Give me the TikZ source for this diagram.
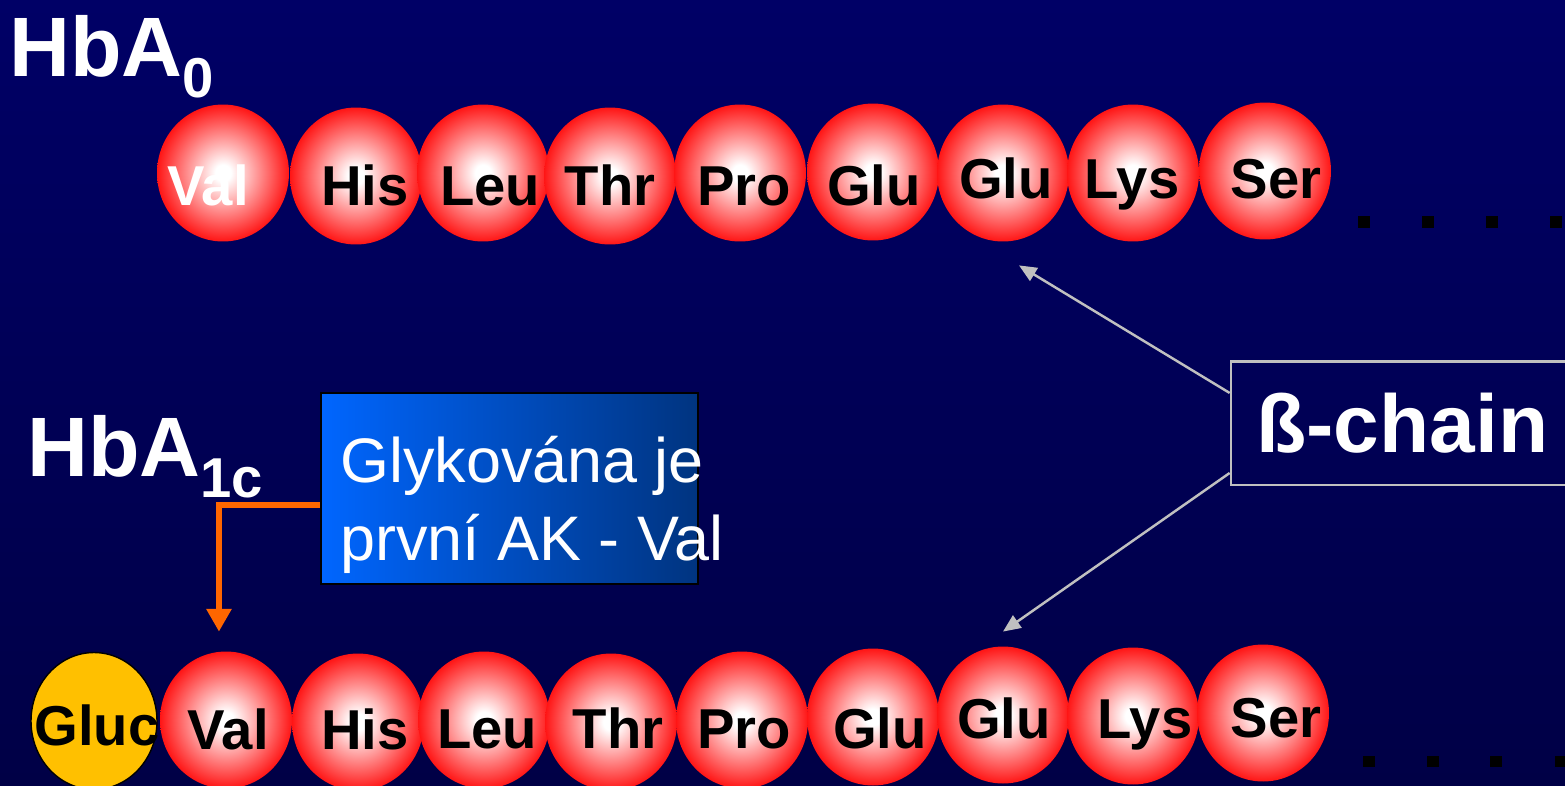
\documentclass[tikz,border=0pt]{standalone}
\usepackage{fontspec}
\setmainfont{Liberation Sans}
\usetikzlibrary{shapes.geometric,arrows.meta}

\definecolor{bgtop}{RGB}{0,0,102}
\definecolor{bgmid}{RGB}{0,0,94}
\definecolor{bgbot}{RGB}{0,0,70}
\definecolor{glucgold}{RGB}{255,192,0}
\definecolor{noteleft}{RGB}{0,102,255}
\definecolor{noteright}{RGB}{0,52,128}
\definecolor{pointer}{RGB}{255,102,0}
\definecolor{silver}{RGB}{192,192,192}

\pgfdeclareradialshading{acidball}{\pgfpoint{0bp}{0bp}}{color(0bp)=(white); color(3bp)=(white); color(27bp)=(red); color(50bp)=(red)}

\newcommand{\hbsub}[1]{\raisebox{-12pt}{\fontsize{32}{32}\selectfont #1}}

\tikzset{
  acid/.style={ellipse, minimum width=2.64cm, minimum height=2.74cm, inner sep=0pt, shading=acidball},
  gluc/.style={ellipse, minimum width=2.52cm, minimum height=2.74cm, inner sep=0pt, fill=glucgold, draw=black, line width=0.8pt},
  acidtext/.style={anchor=base, inner sep=0pt, font=\fontsize{32}{32}\selectfont\bfseries},
  hbtext/.style={anchor=base west, inner sep=0pt, text=white, font=\fontsize{48}{48}\selectfont\bfseries},
  notebox/.style={draw=black, line width=1.1pt, left color=noteleft, right color=noteright, minimum width=7.55cm, minimum height=3.83cm, inner sep=0pt},
  notetext/.style={anchor=north west, inner sep=0pt, align=left, text=white, font=\fontsize{35.8}{44.4}\selectfont},
  chainbox/.style={draw=silver, line width=1.4pt, minimum width=6.86cm, minimum height=2.47cm, inner sep=0pt, text=white, font=\fontsize{46.7}{46.7}\selectfont\bfseries},
  chainarrow/.style={draw=silver, line width=1.4pt, -{Triangle[width=8.5pt,length=10pt]}},
  pointerarrow/.style={draw=pointer, line width=3.8pt, -{Triangle[width=13.7pt,length=13pt]}}
}

\begin{document}
\begin{tikzpicture}[x=0.02cm, y=-0.02cm]

  \useasboundingbox (0,0) rectangle (1565,785);

  % background
  \shade [top color=bgtop, middle color=bgmid, bottom color=bgbot] (0,0) rectangle (1565,785);

  % titles
  \node [hbtext] (hba0)  at (9,   76)   {HbA\hbsub{0}};
  \node [hbtext] (hba1c) at (27,  476)  {HbA\hbsub{1c}};

  % top chain (HbA0)
  \node [acid] (t1) at (223,  173) {};
  \node [acid] (t2) at (356,  176) {};
  \node [acid] (t3) at (483,  173) {};
  \node [acid] (t4) at (610,  176) {};
  \node [acid] (t5) at (740,  173) {};
  \node [acid] (t6) at (873,  172) {};
  \node [acid] (t7) at (1003, 173) {};
  \node [acid] (t8) at (1133, 173) {};
  \node [acid] (t9) at (1265, 171) {};

  \node [acidtext, text=white] (t1l) at (208,  205) {Val};
  \node [acidtext] (t2l) at (365,  205) {His};
  \node [acidtext] (t3l) at (490,  205) {Leu};
  \node [acidtext] (t4l) at (610,  205) {Thr};
  \node [acidtext] (t5l) at (744,  205) {Pro};
  \node [acidtext] (t6l) at (874,  205) {Glu};
  \node [acidtext] (t7l) at (1006, 198) {Glu};
  \node [acidtext] (t8l) at (1132, 198) {Lys};
  \node [acidtext] (t9l) at (1276, 198) {Ser};

  % bottom chain (HbA1c)
  \node [gluc] (b0) at (94,   721) {};
  \node [acid] (b1) at (226,  720) {};
  \node [acid] (b2) at (358,  722) {};
  \node [acid] (b3) at (484,  720) {};
  \node [acid] (b4) at (611,  722) {};
  \node [acid] (b5) at (742,  720) {};
  \node [acid] (b6) at (873,  717) {};
  \node [acid] (b7) at (1003, 715) {};
  \node [acid] (b8) at (1133, 716) {};
  \node [acid] (b9) at (1263, 713) {};

  \node [acidtext] (b0l) at (97,   745) {Gluc};
  \node [acidtext] (b1l) at (228,  749) {Val};
  \node [acidtext] (b2l) at (365,  749) {His};
  \node [acidtext] (b3l) at (487,  748) {Leu};
  \node [acidtext] (b4l) at (618,  748) {Thr};
  \node [acidtext] (b5l) at (744,  748) {Pro};
  \node [acidtext] (b6l) at (880,  748) {Glu};
  \node [acidtext] (b7l) at (1004, 738) {Glu};
  \node [acidtext] (b8l) at (1145, 738) {Lys};
  \node [acidtext] (b9l) at (1276, 737) {Ser};

  % dots (chain continues)
  \fill (1358, 216) rectangle (1370, 228);
  \fill (1422, 216) rectangle (1434, 228);
  \fill (1486, 216) rectangle (1498, 228);
  \fill (1550, 216) rectangle (1562, 228);
  \fill (1363, 756) rectangle (1375, 767);
  \fill (1427, 756) rectangle (1439, 767);
  \fill (1490, 756) rectangle (1502, 767);
  \fill (1555, 756) rectangle (1567, 767);

  % note box
  \node [notebox]  (note)     at (509.35, 488.35) {};
  \node [notetext] (notetext) at (340,    435.7)  {Glykována je\\první AK - Val};

  % beta chain box
  \node [chainbox] (chain) at (1402.35, 423.35) {ß-chain};

  % arrows
  \draw [pointerarrow] ([yshift=-9.5pt]note.west) -| ([xshift=-4pt,yshift=11.1pt]b1.north);
  \draw [chainarrow]   ([yshift=17.3pt]chain.west)  -- ([xshift=9.1pt,yshift=-13.4pt]t7.south);
  \draw [chainarrow]   ([yshift=-28.25pt]chain.west) -- ([yshift=8.3pt]b7.north);

\end{tikzpicture}
\end{document}
